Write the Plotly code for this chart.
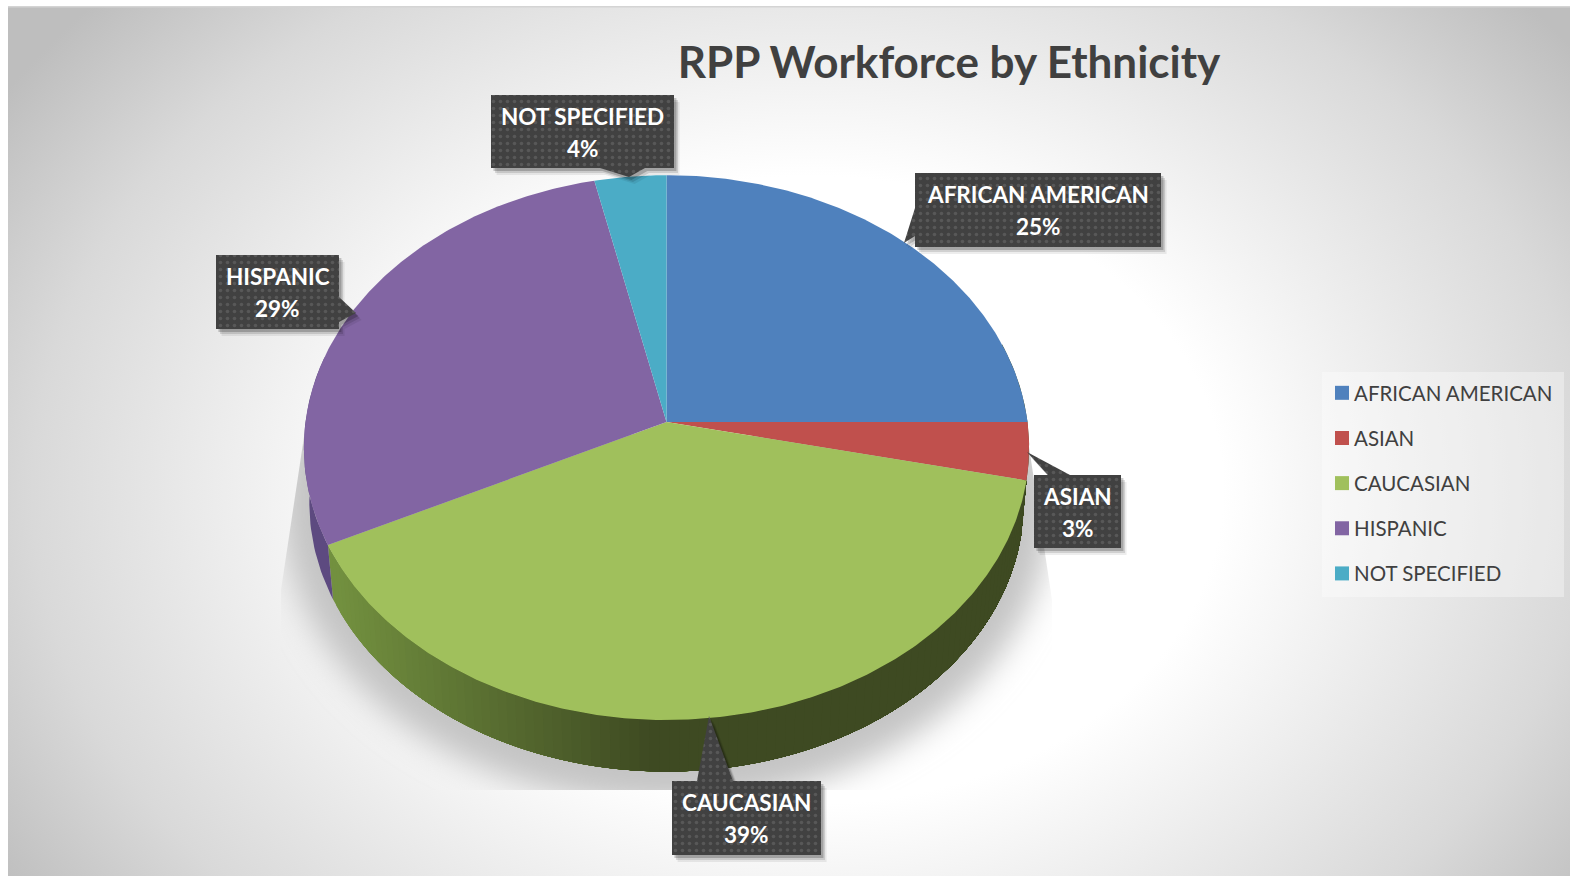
import base64
import math
import plotly.graph_objects as go

# ---- data ----
categories = ["AFRICAN AMERICAN", "ASIAN", "CAUCASIAN", "HISPANIC", "NOT SPECIFIED"]
values = [25.0, 3.4, 39.4, 28.7, 3.5]
colors = ["#4f81bd", "#c0504d", "#a0c05c", "#8265a3", "#4bacc6"]
title_text = "RPP Workforce by Ethnicity"

# ---- layout / projection settings (page pixels) ----
W, H = 1570, 876
CX, CY, RX, RY, PERSP = 666.5, 422, 361, 270, 0.094
DEPTH, SHRINK = 56, 0.985
FONT = "Lato, 'Open Sans', sans-serif"
callouts = {
    "AFRICAN AMERICAN": dict(box=(915, 173, 1161, 247), tip=[(915, 208), (904, 243), (915, 236)]),
    "ASIAN": dict(box=(1034, 475, 1121, 548), tip=[(1070, 475), (1027, 452), (1048, 475)]),
    "CAUCASIAN": dict(box=(672, 781, 821, 855), tip=[(697, 781), (709, 716), (733, 781)]),
    "HISPANIC": dict(box=(216, 255, 339, 329), tip=[(339, 297), (356, 313), (339, 322)]),
    "NOT SPECIFIED": dict(box=(491, 95, 674, 168), tip=[(645, 168), (629, 177), (600, 168)]),
}


def rim(theta, lower=False):
    w = 1 / (1 + PERSP * math.sin(theta))
    s = SHRINK if lower else 1
    cy = CY + DEPTH if lower else CY
    return CX + RX * math.cos(theta) * w * s, cy - RY * math.sin(theta) * w * s


def mix(a, b, t):
    t = max(0, min(1, t))
    ca = [int(a[i:i + 2], 16) for i in (1, 3, 5)]
    cb = [int(b[i:i + 2], 16) for i in (1, 3, 5)]
    return "rgb(%d,%d,%d)" % tuple(round(p + (q - p) * t) for p, q in zip(ca, cb))


total = sum(values)
spans = []
cum = 0
for v in values:
    start = math.pi / 2 - 2 * math.pi * cum / total
    cum += v
    spans.append((start, math.pi / 2 - 2 * math.pi * cum / total))

fig = go.Figure()


def poly(xs, ys, color, **kw):
    fig.add_trace(go.Scatter(x=xs, y=ys, mode="lines", fill="toself", fillcolor=color,
                             line=dict(color=color, width=0), hoverinfo="skip",
                             showlegend=False, **kw))


# side wall of the pie: front-facing part of each slice; the green one is painted
# as overlapping bands so that its shading runs from light (left) to dark (right)
for name, (a, b) in zip(categories, spans):
    lo, hi = max(b, -math.pi - 0.25), min(a, 0.3)
    if hi <= lo:
        continue
    n = max(2, int((hi - lo) / 0.025))
    for i in range(n):
        if name != "CAUCASIAN" and i > 0:
            continue
        t0 = lo + (hi - lo) * i / n
        steps = 40
        top = [rim(t0 + (hi - t0) * j / steps) for j in range(steps + 1)]
        bot = [rim(t0 + (hi - t0) * j / steps, True) for j in range(steps, -1, -1)]
        if name == "CAUCASIAN":
            c = mix("#72903f", "#3e4a22", (rim(t0)[0] - 335) / 310)
        elif name == "HISPANIC":
            c = "#5d4a80"
        else:
            c = "#3e4a22"
        ring = top + bot
        poly([q[0] for q in ring], [q[1] for q in ring], c)

# top faces
for name, col, (a, b) in zip(categories, colors, spans):
    n = max(8, int((a - b) / 0.01))
    pts = [rim(a + (b - a) * i / n) for i in range(n + 1)]
    poly([CX] + [q[0] for q in pts] + [CX], [CY] + [q[1] for q in pts] + [CY], col, name=name)

# legend entries
for name, col in zip(categories, colors):
    fig.add_trace(go.Scatter(x=[None], y=[None], mode="markers", name=name, legendgroup=name,
                             marker=dict(symbol="square", size=14, color=col)))

# callouts
for name, v in zip(categories, values):
    c = callouts[name]
    x0, y0, x1, y1 = c["box"]
    tx = [q[0] for q in c["tip"]]
    ty = [q[1] for q in c["tip"]]
    if name == "AFRICAN AMERICAN":
        xs = [x0, x1, x1, x0] + tx[::-1] + [x0]
        ys = [y0, y0, y1, y1] + ty[::-1] + [y0]
    elif name == "HISPANIC":
        xs = [x0, x1] + tx + [x1, x0, x0]
        ys = [y0, y0] + ty + [y1, y1, y0]
    elif name == "ASIAN":
        xs = [x0, tx[2], tx[1], tx[0], x1, x1, x0, x0]
        ys = [y0, ty[2], ty[1], ty[0], y0, y1, y1, y0]
    elif name == "CAUCASIAN":
        xs = [x0] + tx + [x1, x1, x0, x0]
        ys = [y0] + ty + [y0, y1, y1, y0]
    else:
        xs = [x0, x1, x1] + tx + [x0, x0]
        ys = [y0, y0, y1] + ty + [y1, y0]
    for off, alpha in ((7, 0.07), (5, 0.12), (3, 0.2)):
        poly([p + off * 0.8 for p in xs], [p + off for p in ys], "rgba(0,0,0,%.2f)" % alpha)
    fig.add_trace(go.Scatter(x=xs, y=ys, mode="lines", fill="toself", fillcolor="#404040",
                             line=dict(width=0, color="#404040"), hoverinfo="skip", showlegend=False,
                             fillpattern=dict(shape=".", bgcolor="#414141", fgcolor="#585858",
                                              size=7, solidity=0.2, fillmode="replace")))
    mid = (y0 + y1) / 2
    for text, dy in ((name, -15.5), ("%d%%" % round(100 * v / total), 16.5)):
        fig.add_annotation(x=(x0 + x1) / 2, y=mid + dy, xref="x", yref="y", showarrow=False,
                           text="<b>%s</b>" % text, align="center",
                           font=dict(family=FONT, size=22.5, color="white"))

# backdrop: page, radial gradient and the soft pie shadow
shadow_clip = "305,430 281,590 281,790 1052,790 1052,600 1028,440"
svg = f'''<svg xmlns="http://www.w3.org/2000/svg" width="{W}" height="{H}" viewBox="0 0 {W} {H}">
<defs>
<radialGradient id="g" gradientUnits="userSpaceOnUse" cx="0" cy="0" r="1"
 gradientTransform="translate(810 490) scale(960 730)">
<stop offset="0.43" stop-color="#ffffff"/><stop offset="0.62" stop-color="#ececec"/>
<stop offset="0.81" stop-color="#d9d9d9"/><stop offset="1" stop-color="#bebebe"/></radialGradient>
<filter id="b" x="-20%" y="-20%" width="140%" height="140%"><feGaussianBlur stdDeviation="16"/></filter>
<clipPath id="c"><polygon points="{shadow_clip}"/></clipPath>
</defs>
<rect width="{W}" height="{H}" fill="#ffffff"/>
<rect x="8" y="6" width="{W}" height="{H}" fill="url(#g)"/>
<rect x="8" y="6" width="{W}" height="1.5" fill="#d4d4d4"/>
<g clip-path="url(#c)"><ellipse cx="666" cy="505" rx="385" ry="300" fill="#c4c4c4" filter="url(#b)"/></g>
<rect x="1322" y="372" width="242" height="225" fill="#ffffff" fill-opacity="0.35"/>
</svg>'''
uri = "data:image/svg+xml;base64," + base64.b64encode(svg.encode()).decode()

fig.update_layout(
    width=W, height=H, margin=dict(l=0, r=0, t=0, b=0, autoexpand=False),
    paper_bgcolor="white", plot_bgcolor="rgba(0,0,0,0)",
    xaxis=dict(range=[0, W], visible=False, fixedrange=True),
    yaxis=dict(range=[H, 0], visible=False, fixedrange=True),
    title=dict(text="<b>%s</b>" % title_text, x=949 / W, xanchor="center", y=1 - 63 / H, yanchor="middle",
               automargin=False, font=dict(family=FONT, size=44, color="#404040")),
    legend=dict(x=1314 / W, xanchor="left", y=1 - 373 / H, yanchor="top",
                bgcolor="rgba(0,0,0,0)", borderwidth=0,
                traceorder="grouped", tracegroupgap=15.5, itemwidth=30,
                font=dict(family=FONT, size=20.5, color="#404040")),
    images=[dict(source=uri, xref="paper", yref="paper", x=0, y=1, sizex=1, sizey=1,
                 xanchor="left", yanchor="top", sizing="stretch", layer="below")],
)

fig.write_html("out.html",
               post_script="document.body.style.margin='0';document.body.style.overflow='hidden';"
                           "document.querySelectorAll('.legendpoints').forEach(function(g){"
                           "g.setAttribute('transform','translate(8,0)');});",
               config=dict(displayModeBar=False))
